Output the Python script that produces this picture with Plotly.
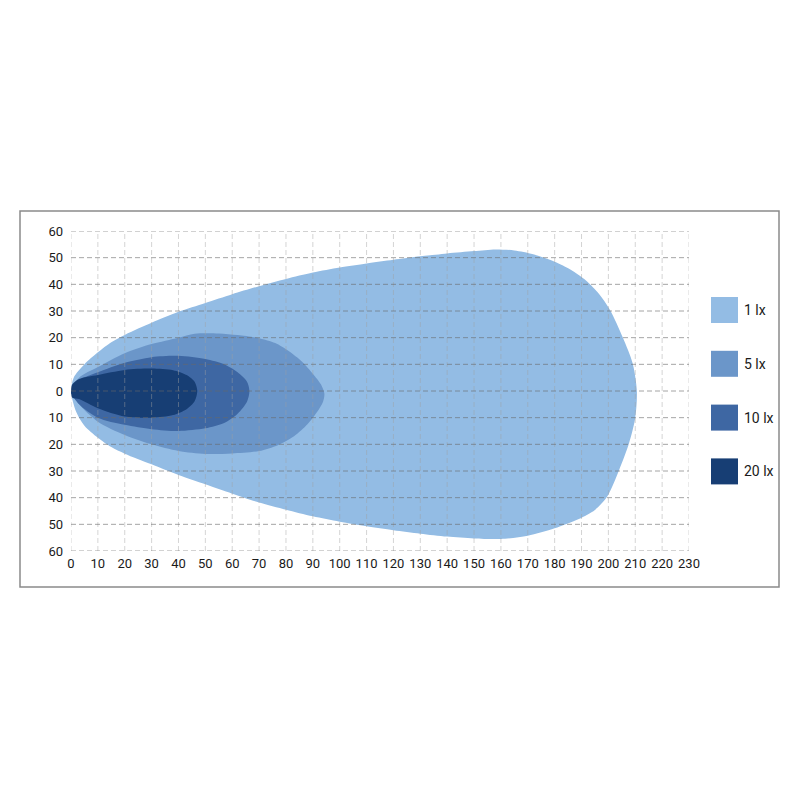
import plotly.graph_objects as go

# ---- data ----
labels = ["1 lx", "5 lx", "10 lx", "20 lx"]
colors = ["#93bce4", "#6b96c9", "#3e67a3", "#173e74"]

x_1lx = [0, 1, 5, 10, 15, 20, 25, 30, 40, 50, 60, 70, 80, 90, 100, 110, 120, 130, 140, 150, 158, 165, 172, 180, 186, 191, 196, 200.6, 205.4, 209, 210.6,
         210, 207.7, 204, 199.5, 195, 189, 180, 170, 160, 150, 140, 130, 120, 110, 100, 90, 80, 70, 60, 50, 40, 30, 20, 15, 10, 5, 2, 0]
y_1lx = [0, 5, 10, 14.5, 18.3, 21, 23.4, 25.6, 29.7, 33, 36.3, 39.3, 42, 44.4, 46.3, 47.8, 49.2, 50.5, 51.6, 52.5, 53.1, 52.7, 51.3, 48.5, 45.5, 42, 37, 30.4, 20, 10.5, 0,
         -10, -19.5, -29.6, -39.7, -44.6, -48, -51.5, -54.3, -55.5, -55.3, -54.6, -53.5, -52.2, -50.7, -49, -47, -44.5, -41.8, -38.5, -35, -31.5, -27.5, -23.5, -21, -17.5, -13, -8, 0]

x_5lx = [0, 3, 10, 20, 30, 40, 46, 55, 62, 70, 76, 81, 86, 90, 93, 94.3, 93.8, 91.5, 88, 83, 77, 70, 60, 50, 40, 30, 20, 10, 3, 0]
y_5lx = [0, 5, 9, 14.2, 17.6, 20, 21.5, 21.6, 21, 19.8, 18, 15, 11, 6.5, 2.5, -1, -4, -8, -12.5, -17, -20.3, -22.5, -23.4, -23.6, -22.5, -20, -16.5, -11.5, -5, 0]

x_10lx = [0, 3, 10, 20, 30, 40, 50, 57, 62, 65.5, 66.4, 65.5, 62, 57, 50, 40, 30, 20, 10, 3, 0]
y_10lx = [0, 4, 7, 10.6, 12.7, 13.2, 12, 10, 7, 3.5, 0, -4, -8.5, -12, -14, -15, -14.3, -12.7, -10, -5, 0]

x_20lx = [0, 0.5, 3, 10, 20, 30, 38, 43, 46, 47, 46, 43, 38, 30, 20, 10, 3, 0.5, 0]
y_20lx = [0, 2.5, 4.5, 6, 7.9, 8.4, 7.8, 6, 3.5, 0, -3.8, -6.8, -9, -10, -9.6, -6.5, -3, -2.5, 0]

x_ticks = list(range(0, 231, 10))
y_ticks = list(range(-60, 61, 10))
y_ticktext = [str(abs(v)) for v in y_ticks]

series_x = [x_1lx, x_5lx, x_10lx, x_20lx]
series_y = [y_1lx, y_5lx, y_10lx, y_20lx]

# ---- figure ----
fig = go.Figure()
for xs, ys, lab, col in zip(series_x, series_y, labels, colors):
    fig.add_trace(go.Scatter(x=xs, y=ys, mode="lines", line=dict(width=0, shape="spline", smoothing=0.8),
                             fill="toself", fillcolor=col, name=lab, showlegend=False, hoverinfo="skip"))

shapes = []
# gridlines drawn above the fills
for xv in x_ticks:
    shapes.append(dict(type="line", xref="x", yref="y", x0=xv, x1=xv, y0=y_ticks[0], y1=y_ticks[-1],
                       line=dict(color="rgba(160,160,160,0.45)", width=1, dash="5px,3px"), layer="above"))
for yv in y_ticks:
    shapes.append(dict(type="line", xref="x", yref="y", x0=x_ticks[0], x1=x_ticks[-1] + 1, y0=yv, y1=yv,
                       line=dict(color="rgba(105,105,105,0.6)", width=1, dash="5px,3px"), layer="above"))

# plot area in screen pixels (page has an 8px body margin)
OFF = 8
L, R, T, B = 71, 689, 231, 551
pw, ph = R - L, B - T
def px(xp):
    return (xp - L) / pw
def py(yp):
    return (B - yp) / ph

shapes.append(dict(type="rect", xref="paper", yref="paper", x0=px(20), x1=px(779), y0=py(587), y1=py(211),
                   line=dict(color="#8a8a8a", width=1.5), fillcolor="rgba(0,0,0,0)", layer="above"))

annotations = []
for i, (lab, col) in enumerate(zip(labels, colors)):
    top = 297 + i * 53.8
    shapes.append(dict(type="rect", xref="paper", yref="paper", x0=px(711), x1=px(738), y0=py(top + 26), y1=py(top),
                       line=dict(width=0), fillcolor=col))
    annotations.append(dict(xref="paper", yref="paper", x=px(742), y=py(top + 13), text=lab, showarrow=False,
                            xanchor="left", yanchor="middle", font=dict(size=14, color="#1a1a1a", family="Roboto")))

fig.update_layout(
    width=800, height=800,
    margin=dict(l=L - OFF, r=800 - (R - OFF), t=T - OFF, b=800 - (B - OFF), pad=0),
    paper_bgcolor="white", plot_bgcolor="white",
    shapes=shapes, annotations=annotations,
    showlegend=False,
    font=dict(family="Roboto", size=13, color="#1a1a1a"),
    xaxis=dict(range=[0, 230], tickvals=x_ticks, showgrid=False, zeroline=False, showline=False,
               ticks="", ticklabelstandoff=3, fixedrange=True),
    yaxis=dict(range=[-60, 60], tickvals=y_ticks, ticktext=y_ticktext, showgrid=False, zeroline=False,
               showline=False, ticks="", ticklabelstandoff=7, fixedrange=True),
)

fig.write_html("out.html")
